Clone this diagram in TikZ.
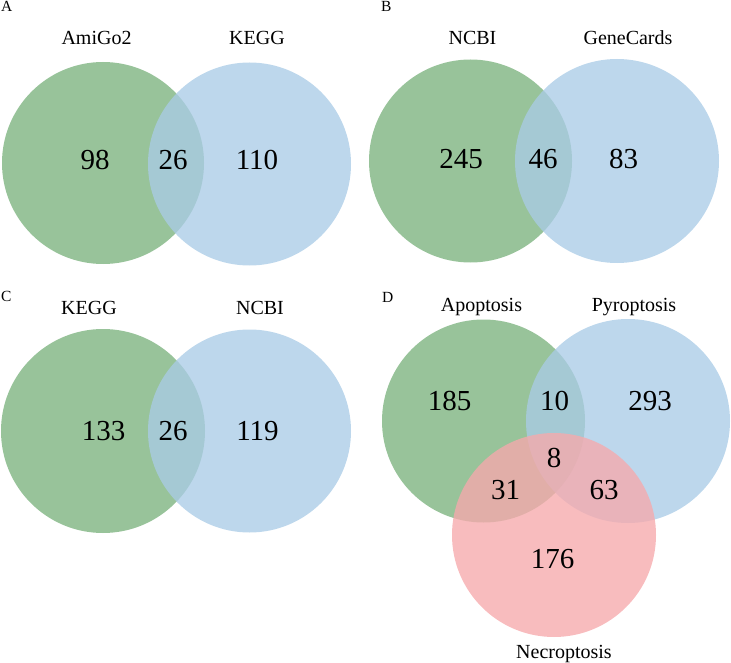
\documentclass[tikz,border=0pt]{standalone}
\usepackage{fontspec}
\setmainfont{Liberation Serif}
\definecolor{vgreen}{RGB}{152,195,154}
\definecolor{vblue}{RGB}{169,203,230}
\definecolor{vred}{RGB}{246,169,172}
\tikzset{
  gset/.style={fill=vgreen},
  bset/.style={fill=vblue, fill opacity=0.77},
  rset/.style={fill=vred, fill opacity=0.78},
  num/.style={anchor=base, inner sep=0, font=\fontsize{29}{30}\selectfont},
  setlab/.style={anchor=base, inner sep=0, font=\fontsize{20}{22}\selectfont},
  panel/.style={anchor=base west, inner sep=0, font=\fontsize{15.5}{17}\selectfont}
}
\begin{document}
\begin{tikzpicture}[x=1pt,y=-1pt]
\useasboundingbox (0,0) rectangle (731,663);
% Panel A
\fill[gset] (103,163) circle (101);
\fill[bset] (249.5,164) circle (101.5);
\node[panel] (pA) at (1,12) {A};
\node[setlab] (lA1) at (96.5,45) {AmiGo2};
\node[setlab] (lA2) at (257,45) {KEGG};
\node[num] (nA1) at (95,170) {98};
\node[num] (nA2) at (173,170) {26};
\node[num] (nA3) at (257,170) {110};
% Panel B
\fill[gset] (470.5,161) circle (101.5);
\fill[bset] (617,161) circle (102);
\node[panel] (pB) at (381,12) {B};
\node[setlab] (lB1) at (472.5,45) {NCBI};
\node[setlab] (lB2) at (628,45) {GeneCards};
\node[num] (nB1) at (461,169) {245};
\node[num] (nB2) at (543,169) {46};
\node[num] (nB3) at (623.5,169) {83};
% Panel C
\fill[gset] (103,431) circle (102);
\fill[bset] (249.5,431) circle (101.5);
\node[panel] (pC) at (1,301) {C};
\node[setlab] (lC1) at (89,314) {KEGG};
\node[setlab] (lC2) at (260,314) {NCBI};
\node[num] (nC1) at (103.5,440) {133};
\node[num] (nC2) at (173,440) {26};
\node[num] (nC3) at (257.5,440) {119};
% Panel D
\fill[gset] (483.5,421) circle (101.5);
\fill[bset] (628,421) circle (102);
\fill[rset] (554,535) circle (102);
\node[panel] (pD) at (382,302) {D};
\node[setlab] (lD1) at (481.5,311) {Apoptosis};
\node[setlab] (lD2) at (634,311) {Pyroptosis};
\node[setlab] (lD3) at (564,658) {Necroptosis};
\node[num] (nD1) at (449.5,410) {185};
\node[num] (nD2) at (554.5,410) {10};
\node[num] (nD3) at (650,410) {293};
\node[num] (nD4) at (554,467) {8};
\node[num] (nD5) at (505.5,499) {31};
\node[num] (nD6) at (604,499) {63};
\node[num] (nD7) at (552.5,568) {176};
\end{tikzpicture}
\end{document}
